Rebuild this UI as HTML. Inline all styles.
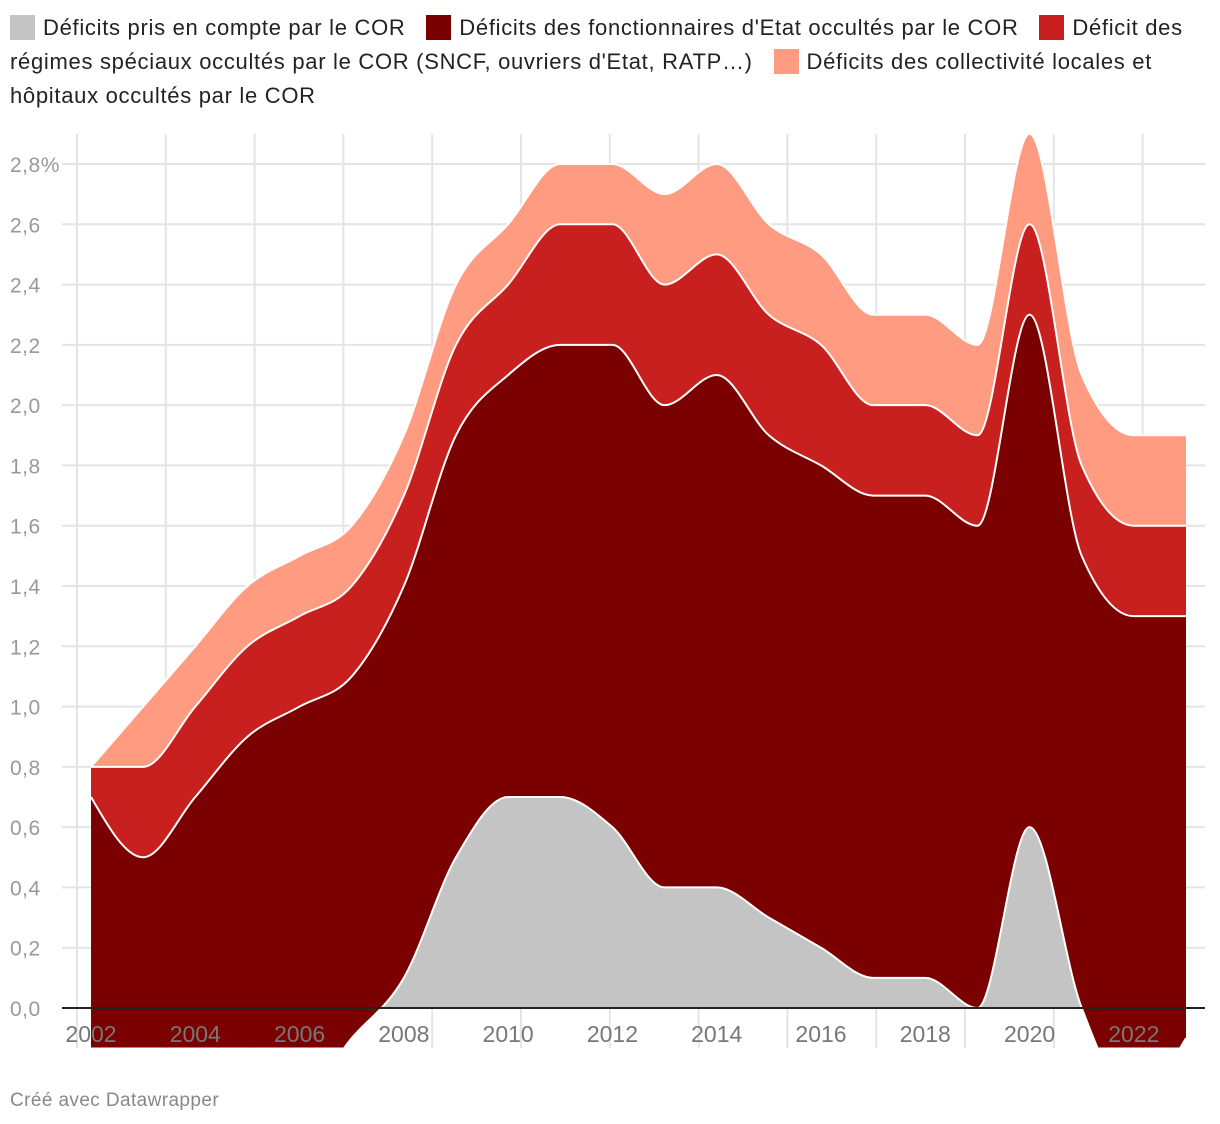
<!DOCTYPE html>
<html><head><meta charset="utf-8"><style>
body{margin:0;background:#fff;font-family:"Liberation Sans",sans-serif;}
#legend{position:absolute;left:10px;top:11px;width:1200px;font-size:22px;line-height:34px;color:#222;letter-spacing:0.7px;}
.sw{display:inline-block;width:25px;height:25px;vertical-align:-5px;margin-right:8px;}
.li{margin-right:14px;}
#foot{position:absolute;left:10px;top:1090px;font-size:19px;color:#888;letter-spacing:0.4px;}
svg{position:absolute;left:0;top:0;}
</style></head><body>
<div id="legend"><span class="li"><span class="sw" style="background:#c4c4c4"></span>Déficits pris en compte par le COR</span> <span class="li"><span class="sw" style="background:#7b0000"></span>Déficits des fonctionnaires d'Etat occultés par le COR</span> <span class="li"><span class="sw" style="background:#c81f1f"></span>Déficit des régimes spéciaux occultés par le COR (SNCF, ouvriers d'Etat, RATP…)</span> <span class="li"><span class="sw" style="background:#ff9b80"></span>Déficits des collectivité locales et hôpitaux occultés par le COR</span></div>
<svg id="chart" width="1220" height="1124"></svg>
<div id="foot">Créé avec Datawrapper</div>
<script>
const years=[2002,2003,2004,2005,2006,2007,2008,2009,2010,2011,2012,2013,2014,2015,2016,2017,2018,2019,2020,2021,2022,2023];
const corValues=[-0.3,-0.3,-0.3,-0.3,-0.3,-0.1,0.1,0.5,0.7,0.7,0.6,0.4,0.4,0.3,0.2,0.1,0.1,0.0,0.6,0.0,-0.3,-0.1];
const fonctValues=[1.0,0.8,1.0,1.2,1.3,1.2,1.3,1.4,1.4,1.5,1.6,1.6,1.7,1.6,1.6,1.6,1.6,1.6,1.7,1.5,1.6,1.4];
const regimesValues=[0.1,0.3,0.3,0.3,0.3,0.3,0.3,0.3,0.3,0.4,0.4,0.4,0.4,0.4,0.4,0.3,0.3,0.3,0.3,0.3,0.3,0.3];
const collectValues=[0.0,0.2,0.2,0.2,0.2,0.2,0.2,0.2,0.2,0.2,0.2,0.3,0.3,0.3,0.3,0.3,0.3,0.3,0.3,0.3,0.3,0.3];
const yTicks=[0,0.2,0.4,0.6,0.8,1.0,1.2,1.4,1.6,1.8,2.0,2.2,2.4,2.6,2.8];
const xTicks=[2002,2004,2006,2008,2010,2012,2014,2016,2018,2020,2022];

const NS="http://www.w3.org/2000/svg";
const svg=document.getElementById('chart');
const X=v=>91+(v-2002)*(1186-91)/21;
const Y=v=>1008-v*301.43;
function mk(t,a,p){const e=document.createElementNS(NS,t);for(const k in a)e.setAttribute(k,a[k]);(p||svg).appendChild(e);return e;}
for(let i=0;i<13;i++){const gx=77+i*88.8;if(gx>1206)break;
const g=mk('line',{x1:gx,x2:gx,y1:134,y2:1048,stroke:'#e4e4e4','stroke-width':2});

}
yTicks.forEach(t=>{
const g=mk('line',{x1:62,x2:1205,y1:Y(t),y2:Y(t),stroke:'#e4e4e4','stroke-width':2});


const tx=mk('text',{x:10,y:Y(t)+8,'font-size':21,fill:'#999','letter-spacing':'0.5'});
tx.textContent=(t===2.8?'2,8%':t.toFixed(1).replace('.',','));


});
function monoPts(xs,ys){const n=xs.length,d=[],m=[];
for(let i=0;i<n-1;i++)d.push((ys[i+1]-ys[i])/(xs[i+1]-xs[i]));
for(let i=0;i<n;i++){if(i===0)m.push(d[0]);else if(i===n-1)m.push(d[n-2]);
else{const h0=xs[i]-xs[i-1],h1=xs[i+1]-xs[i];const p=(d[i-1]*h1+d[i]*h0)/(h0+h1);
m.push((Math.sign(d[i-1])+Math.sign(d[i]))*Math.min(Math.abs(d[i-1]),Math.abs(d[i]),0.5*Math.abs(p))||0);}}
if(n>2){const h=xs[1]-xs[0];m[0]=((3*(ys[1]-ys[0])/h-m[1])/2);const h2=xs[n-1]-xs[n-2];m[n-1]=((3*(ys[n-1]-ys[n-2])/h2-m[n-2])/2);}
return m;}
function curve(xs,ys,move){const m=monoPts(xs,ys);let s=(move?'M':'L')+xs[0]+','+ys[0];
for(let i=0;i<xs.length-1;i++){const h=(xs[i+1]-xs[i])/3;
s+=`C${xs[i]+h},${ys[i]+m[i]*h} ${xs[i+1]-h},${ys[i+1]-m[i+1]*h} ${xs[i+1]},${ys[i+1]}`;}return s;}
const defs=mk('defs',{});const cp=mk('clipPath',{id:'clip'},defs);mk('rect',{x:91,y:120,width:1095,height:927.5},cp);
const g=mk('g',{'clip-path':'url(#clip)'});
const series=[[corValues,'#c4c4c4','area-cor'],[fonctValues,'#7b0000','area-fonctionnaires'],[regimesValues,'#c81f1f','area-regimes-speciaux'],[collectValues,'#ff9b80','area-collectivites']];
let base=years.map(()=>0);const layers=[];
series.forEach(([vals,col,name],si)=>{const top=base.map((b,i)=>b+vals[i]);layers.push([base.slice(),top,col,name,si]);base=top;});
const xs=years.map(X);
// draw bottom layer first (grey to zero), then higher layers on top
layers.forEach(([b,t,col,name,si])=>{
const ty=t.map(Y);
let d;
if(si===0){d=curve(xs,ty,true)+`L${xs[xs.length-1]},${Y(0)}L${xs[0]},${Y(0)}Z`;}
else{const by=b.map(Y);d=curve(xs,ty,true)+curve(xs.slice().reverse(),by.slice().reverse(),false)+'Z';}
const p=mk('path',{d,fill:col},g);


});
layers.forEach(([b,t,col,name,si])=>{
const l=mk('path',{d:curve(xs,t.map(Y),true),fill:'none',stroke:'#fff','stroke-width':2},g);


});
const z=mk('line',{x1:62,x2:1205,y1:Y(0),y2:Y(0),stroke:'#222','stroke-width':2});


xTicks.forEach(t=>{const tx=mk('text',{x:X(t),y:1042,'font-size':23,fill:'#777','text-anchor':'middle'});
tx.textContent=t;

});
</script>
</body></html>
